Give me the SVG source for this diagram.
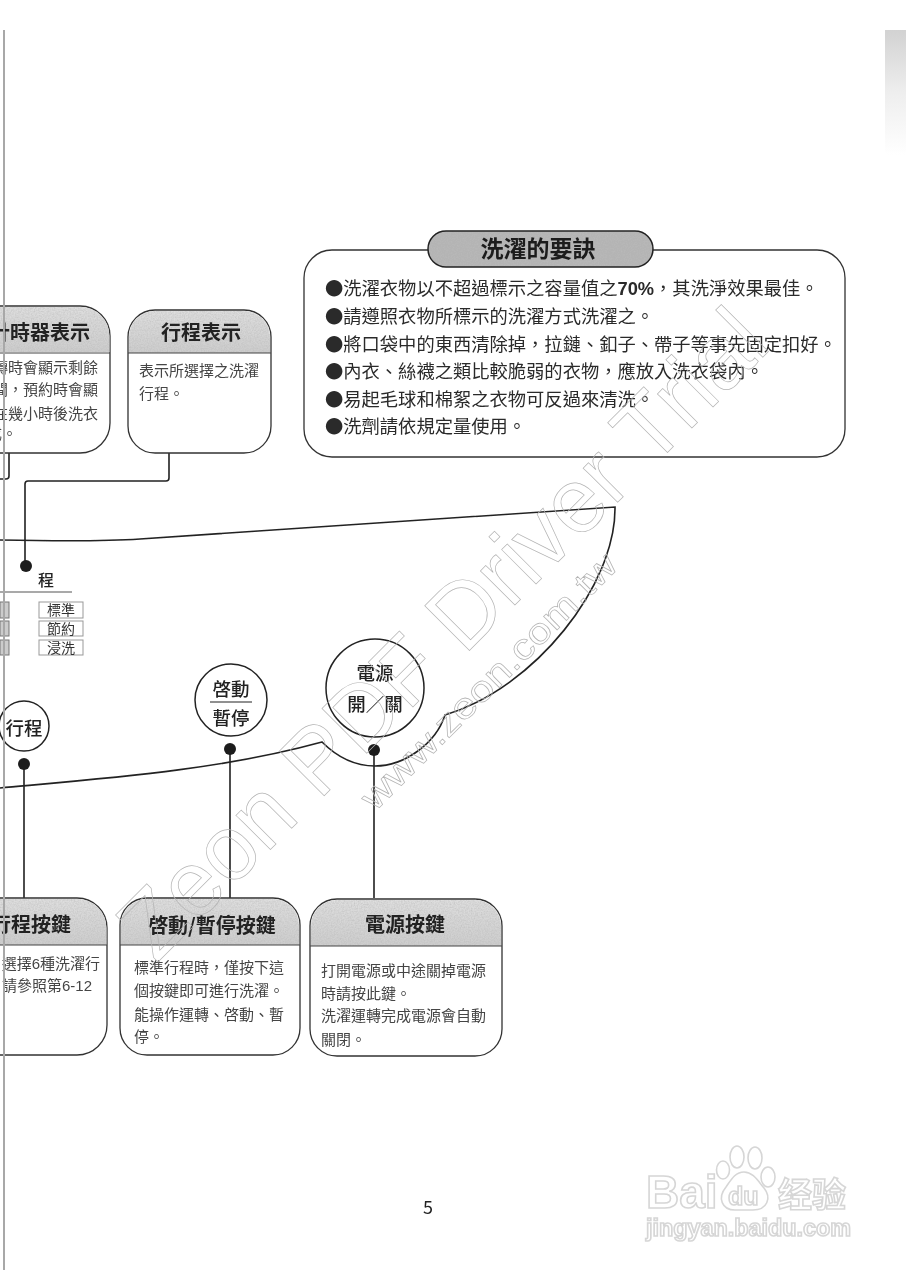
<svg xmlns="http://www.w3.org/2000/svg" width="906" height="1280" viewBox="0 0 906 1280">
<style>
text{font-family:"Noto Sans CJK TC","Noto Sans",sans-serif}
.box{fill:#fff;stroke:#333;stroke-width:1.3}
.hd{fill:url(#hg);stroke:none;filter:url(#grain)}
.dv{stroke:#444;stroke-width:1.2;fill:none}
.line{fill:none;stroke:#222;stroke-width:1.6}
.dot{fill:#1c1c1c}
.ht{font-size:20px;font-weight:700;fill:#222}
.bt{font-size:15px;fill:#444}
.tip{font-size:18.3px;fill:#2a2a2a}
.tag{fill:#fff;stroke:#999;stroke-width:1}
.tt{font-size:14px;fill:#333;text-anchor:middle}
.ct{font-size:18.5px;font-weight:500;fill:#222;text-anchor:middle}
.wm{fill:none;stroke:#b4b4b4;stroke-width:.7;font-family:"Liberation Sans",sans-serif}
.bd{fill:#fff;stroke:#d6d6d6;stroke-width:1.6;font-family:"Liberation Sans",sans-serif;font-weight:700}
</style>
<defs>
<linearGradient id="hg" x1="0" y1="0" x2="0" y2="1"><stop offset="0" stop-color="#dedede"/><stop offset="1" stop-color="#cdcdcd"/></linearGradient>
<linearGradient id="band" x1="0" y1="0" x2="0" y2="1"><stop offset="0" stop-color="#d2d2d2"/><stop offset=".5" stop-color="#eee"/><stop offset="1" stop-color="#fff"/></linearGradient>
<filter id="grain" x="0" y="0" width="1" height="1"><feTurbulence type="fractalNoise" baseFrequency=".7" numOctaves="2" result="n"/><feColorMatrix in="n" type="matrix" values="0 0 0 0 .5 0 0 0 0 .5 0 0 0 0 .5 1.2 0 0 0 -.4" result="c"/><feComposite in="c" in2="SourceGraphic" operator="in" result="m"/><feMerge><feMergeNode in="SourceGraphic"/><feMergeNode in="m"/></feMerge></filter>
<filter id="soft" filterUnits="userSpaceOnUse" x="0" y="0" width="906" height="1280"><feGaussianBlur stdDeviation=".35"/></filter>
</defs>
<rect width="906" height="1280" fill="#fff"/>
<rect x="885" y="30" width="21" height="125" fill="url(#band)"/>

<g filter="url(#soft)">
<g id="connectors">
<path class="line" d="M0 540C50 541 100 541.700 140 539L615 507C616 585 535 688 445 715C436 743 405 766 375 766C355 766 337 757 322 742C220 770 110 778 0 788"/>
<path class="line" d="M169 453V478Q169 481 166 481H28Q25 481 25 484V565"/>
<path class="line" d="M9 453V476Q9 479 6 479H0"/>
<path class="line" d="M24 764V898M230 749V898M374 750V898"/>
</g>

<g id="timer-display">
<path class="box" d="M-30 306H80A30 30 0 0 1 110 336V423A30 30 0 0 1 80 453H-30Z"/>
<path class="hd" d="M0 307H80A29 29 0 0 1 109.400 336V352H0Z"/>
<path class="dv" d="M0 353H110"/>
<text class="ht" x="90" y="340" text-anchor="end">計時器表示</text>
<text class="bt" x="98" y="373" text-anchor="end">轉時會顯示剩餘</text>
<text class="bt" x="98" y="395" text-anchor="end">間，預約時會顯</text>
<text class="bt" x="98" y="419" text-anchor="end">在幾小時後洗衣</text>
<text class="bt" x="17" y="439" text-anchor="end">成。</text>
</g>

<g id="course-display">
<rect class="box" x="128" y="310" width="143" height="143" rx="27"/>
<path class="hd" d="M129 353V337A26 26 0 0 1 155 311H244A26 26 0 0 1 270 337V353Z"/>
<path class="dv" d="M128 353H271"/>
<text class="ht" x="201" y="340" text-anchor="middle">行程表示</text>
<text class="bt" x="139" y="376">表示所選擇之洗濯</text>
<text class="bt" x="139" y="399">行程。</text>
</g>

<g id="tips">
<rect class="box" x="304" y="250" width="541" height="207" rx="28"/>
<rect x="428" y="231" width="225" height="36" rx="18" fill="#b4b4b4" style="filter:url(#grain)"/>
<rect x="428" y="231" width="225" height="36" rx="18" fill="none" stroke="#222" stroke-width="1.5"/>
<text x="538" y="257" text-anchor="middle" font-size="23" font-weight="700" fill="#1c1c1c">洗濯的要訣</text>
<text class="tip" x="325" y="295">●洗濯衣物以不超過標示之容量值之<tspan font-family="Liberation Sans" font-weight="700">70%</tspan>，其洗淨效果最佳。</text>
<text class="tip" x="325" y="323">●請遵照衣物所標示的洗濯方式洗濯之。</text>
<text class="tip" x="325" y="351">●將口袋中的東西清除掉，拉鏈、釦子、帶子等事先固定扣好。</text>
<text class="tip" x="325" y="378">●內衣、絲襪之類比較脆弱的衣物，應放入洗衣袋內。</text>
<text class="tip" x="325" y="406">●易起毛球和棉絮之衣物可反過來清洗。</text>
<text class="tip" x="325" y="433">●洗劑請依規定量使用。</text>
</g>

<g id="course-table">
<text x="46" y="586" text-anchor="middle" font-size="16" font-weight="500" fill="#222">程</text>
<path d="M0 592H72" stroke="#555" stroke-width="1"/>
<rect class="tag" x="39" y="602" width="44" height="16"/>
<rect class="tag" x="39" y="621" width="44" height="15"/>
<rect class="tag" x="39" y="640" width="44" height="15"/>
<text class="tt" x="61" y="615">標準</text>
<text class="tt" x="61" y="634">節約</text>
<text class="tt" x="61" y="653">浸洗</text>
<rect x="0" y="602" width="9" height="16" fill="#ccc" stroke="#777"/>
<rect x="0" y="621" width="9" height="15" fill="#ccc" stroke="#777"/>
<rect x="0" y="640" width="9" height="15" fill="#ccc" stroke="#777"/>
<circle class="dot" cx="26" cy="566" r="6"/>
</g>

<g id="course-button">
<circle cx="24" cy="726" r="25" fill="#fff" stroke="#222" stroke-width="1.5"/>
<text class="ct" x="24" y="735">行程</text>
<circle class="dot" cx="24" cy="764" r="6"/>
</g>

<g id="start-button">
<circle cx="231" cy="700" r="36" fill="#fff" stroke="#222" stroke-width="1.5"/>
<text class="ct" x="231" y="696">啓動</text>
<path d="M210 702H252" stroke="#222" stroke-width="1.2"/>
<text class="ct" x="231" y="725">暫停</text>
<circle class="dot" cx="230" cy="749" r="6"/>
</g>

<g id="power-button">
<circle cx="375" cy="688" r="49" fill="#fff" stroke="#222" stroke-width="1.5"/>
<text class="ct" x="375" y="680">電源</text>
<text class="ct" x="375" y="711">開／關</text>
<circle class="dot" cx="374" cy="750" r="6"/>
</g>

<g id="course-key">
<path class="box" d="M-30 898H77A30 30 0 0 1 107 928V1025A30 30 0 0 1 77 1055H-30Z"/>
<path class="hd" d="M0 899H77A29 29 0 0 1 106.400 928V945H0Z"/>
<path class="dv" d="M0 945H107"/>
<text class="ht" x="71" y="932" text-anchor="end">行程按鍵</text>
<text class="bt" x="100" y="969" text-anchor="end">選擇<tspan font-family="Liberation Sans">6</tspan>種洗濯行</text>
<text class="bt" x="92" y="991" text-anchor="end">請參照第<tspan font-family="Liberation Sans">6-12</tspan></text>
</g>

<g id="start-key">
<rect class="box" x="120" y="898" width="180" height="157" rx="27"/>
<path class="hd" d="M121 945V925A26 26 0 0 1 147 899H273A26 26 0 0 1 299 925V945Z"/>
<path class="dv" d="M120 945H300"/>
<text class="ht" x="212" y="933" text-anchor="middle">啓動/暫停按鍵</text>
<text class="bt" x="134" y="973">標準行程時，僅按下這</text>
<text class="bt" x="134" y="996">個按鍵即可進行洗濯。</text>
<text class="bt" x="134" y="1020">能操作運轉、啓動、暫</text>
<text class="bt" x="134" y="1042">停。</text>
</g>

<g id="power-key">
<rect class="box" x="310" y="899" width="192" height="157" rx="27"/>
<path class="hd" d="M311 946V926A26 26 0 0 1 337 900H475A26 26 0 0 1 501 926V946Z"/>
<path class="dv" d="M310 946H502"/>
<text class="ht" x="405" y="932" text-anchor="middle">電源按鍵</text>
<text class="bt" x="321" y="976">打開電源或中途關掉電源</text>
<text class="bt" x="321" y="999">時請按此鍵。</text>
<text class="bt" x="321" y="1021">洗濯運轉完成電源會自動</text>
<text class="bt" x="321" y="1045">關閉。</text>
</g>

<rect x="3" y="30" width="2" height="1240" fill="#a8a8a8"/>

<text class="wm" transform="translate(156 964) rotate(-45)" font-size="92" textLength="872" lengthAdjust="spacingAndGlyphs">Zeon PDF Driver Trial</text>
<text class="wm" transform="translate(375 812) rotate(-45)" font-size="36" textLength="346" lengthAdjust="spacingAndGlyphs">www.zeon.com.tw</text>

<text x="428" y="1214" text-anchor="middle" font-family="Liberation Sans" font-size="18" fill="#222">5</text>
</g>

<g id="baidu-mark">
<ellipse cx="737" cy="1157" rx="7" ry="11" class="bd"/>
<ellipse cx="755" cy="1158" rx="7" ry="11" class="bd"/>
<ellipse cx="723" cy="1170" rx="6.500" ry="9" class="bd"/>
<ellipse cx="768" cy="1177" rx="7" ry="10" class="bd"/>
<path class="bd" d="M744 1172C735 1172 731 1180 726 1187C717 1198 722 1210 735 1210H753C767 1210 772 1198 764 1188C758 1181 753 1172 744 1172Z"/>
<text class="bd" x="646" y="1208" font-size="46">Bai</text>
<text class="bd" x="728" y="1205" font-size="25">du</text>
<text class="bd" x="778" y="1207" font-size="34" style='font-family:"Noto Sans CJK SC",sans-serif'>经验</text>
<text class="bd" x="646" y="1236" font-size="23" stroke-width="1.100" textLength="205" lengthAdjust="spacingAndGlyphs">jingyan.baidu.com</text>
</g>
</svg>
